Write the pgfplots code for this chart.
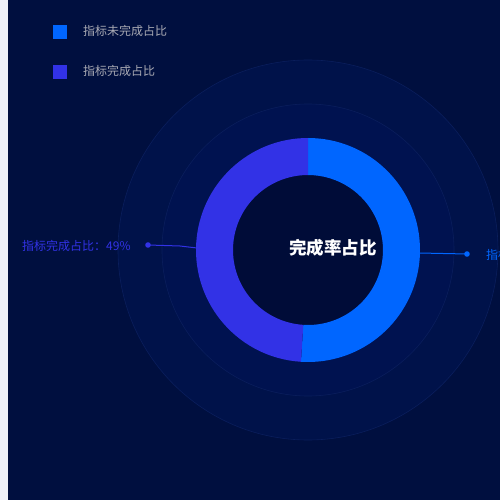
\documentclass[border=0pt]{standalone}
\usepackage{fontspec}
\setmainfont{Noto Sans CJK SC}
\usepackage{pgfplots}
\pgfplotsset{compat=1.18}
\usepackage{pgfplotstable}

\definecolor{bg}{HTML}{000F3F}
\definecolor{strip}{HTML}{EFF1F8}
\definecolor{ringout}{HTML}{00124A}
\definecolor{ringin}{HTML}{001250}
\definecolor{ringedge}{HTML}{0A1E5C}
\definecolor{hole}{HTML}{000C38}
\definecolor{cblue}{HTML}{0066FF}
\definecolor{cpurple}{HTML}{3232E6}
\definecolor{legtext}{HTML}{A9AAB4}

% share of each slice
\pgfplotstableread[col sep=comma]{
name,value
undone,51
done,49
}\piedata
\pgfplotstablegetelem{0}{value}\of\piedata \let\vA\pgfplotsretval
\pgfplotstablegetelem{1}{value}\of\piedata \let\vB\pgfplotsretval
\pgfmathsetmacro{\aEnd}{90-360*(\vA/(\vA+\vB))}

\begin{document}
\begin{tikzpicture}
	\begin{axis}[
		at={(0,0)}, anchor=south west,
		scale only axis,
		width=500bp, height=500bp,
		xmin=0, xmax=500,
		ymin=0, ymax=500,
		hide axis,
		clip=false
	]
		% background
		\fill[bg] (axis cs:0,0) rectangle (axis cs:500,500);
		\fill[strip] (axis cs:0,0) rectangle (axis cs:8,500);

		\path (axis cs:308,250) coordinate (c);
		% decorative rings
		\filldraw[fill=ringout, draw=ringedge, line width=0.6bp] (c) circle[radius=190bp];
		\filldraw[fill=ringin, draw=ringedge, line width=0.6bp] (c) circle[radius=146bp];
		\fill[hole] (c) circle[radius=75bp];

		% slices
		\fill[cblue] ([shift={(90:112bp)}]c) arc[start angle=90, end angle=\aEnd, radius=112bp]
			-- ([shift={(\aEnd:75bp)}]c) arc[start angle=\aEnd, end angle=90, radius=75bp] -- cycle;
		\fill[cpurple] ([shift={(\aEnd:112bp)}]c) arc[start angle=\aEnd, end angle=-270, radius=112bp]
			-- ([shift={(-270:75bp)}]c) arc[start angle=-270, end angle=\aEnd, radius=75bp] -- cycle;

		% leader lines
		\draw[cpurple, line width=1bp] (axis cs:197,252) -- (axis cs:180,254) -- (axis cs:148,255);
		\fill[cpurple] (axis cs:148,255) circle[radius=2.8bp];
		\draw[cblue, line width=1bp] (axis cs:419,247) -- (axis cs:467,246);
		\fill[cblue] (axis cs:467,246) circle[radius=2.8bp];

		\node[anchor=west, inner sep=0pt, text=cpurple, font=\fontsize{12bp}{14bp}\selectfont]
			at (axis cs:22,254) {指标完成占比：\vB\%};
		\node[anchor=west, inner sep=0pt, text=cblue, font=\fontsize{12bp}{14bp}\selectfont]
			at (axis cs:486,245) {指标未完成占比：\vA\%};

		% center title
		\node[inner sep=0pt, text=white, font=\bfseries\fontsize{17.5bp}{20bp}\selectfont]
			at (axis cs:333,252) {完成率占比};

		% legend
		\fill[cblue] (axis cs:53,461) rectangle (axis cs:67,475);
		\node[anchor=west, inner sep=0pt, text=legtext, font=\fontsize{12bp}{14bp}\selectfont]
			at (axis cs:83,469) {指标未完成占比};
		\fill[cpurple] (axis cs:53,421) rectangle (axis cs:67,435);
		\node[anchor=west, inner sep=0pt, text=legtext, font=\fontsize{12bp}{14bp}\selectfont]
			at (axis cs:83,429) {指标完成占比};
	\end{axis}
	\pgfresetboundingbox
	\path[use as bounding box] (0,0) rectangle (500bp,500bp);
\end{tikzpicture}
\end{document}
